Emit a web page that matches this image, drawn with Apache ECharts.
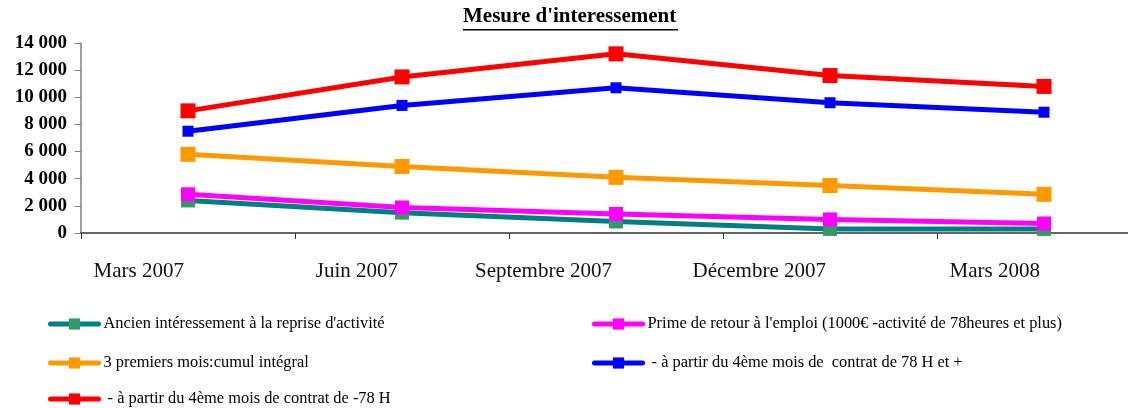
<!DOCTYPE html>
<html>
<head>
<meta charset="utf-8">
<script src="https://cdn.jsdelivr.net/npm/echarts@6/dist/echarts.min.js"></script>
<style>
  html, body { margin: 0; padding: 0; background: #fff; overflow: hidden; }
  /* the plot runs past the right edge of the picture, so the canvas is wider than the window */
  #chart { width: 1151px; height: 408px; }
</style>
</head>
<body>
<div id="chart"></div>
<script>
const months = ['Mars 2007', 'Juin 2007', 'Septembre 2007', 'Décembre 2007', 'Mars 2008']
const ancien = [2400, 1500, 850, 300, 300]
const prime = [2850, 1880, 1400, 1000, 700]
const premiers = [5800, 4900, 4100, 3500, 2850]
const plus78 = [7500, 9400, 10700, 9600, 8900]
const moins78 = [9000, 11500, 13200, 11600, 10800]
const yTicks = [0, 2000, 4000, 6000, 8000, 10000, 12000, 14000]

const names = [
  'Ancien intéressement à la reprise d\'activité',
  'Prime de retour à l\'emploi (1000€ -activité de 78heures et plus)',
  '3 premiers mois:cumul intégral',
  ' - à partir du 4ème mois de  contrat de 78 H et +',
  ' - à partir du 4ème mois de contrat de -78 H'
]

const serif = '"Liberation Serif", "DejaVu Serif", serif'

function line (name, data, lineColor, markColor, size) {
  return {
    name,
    type: 'line',
    data,
    symbol: 'rect',
    symbolSize: size,
    lineStyle: { color: lineColor, width: 5, cap: 'round' },
    itemStyle: { color: markColor },
    emphasis: { disabled: true },
    animation: false
  }
}

// one legend per entry so the two-column layout matches
function legendItem (name, left, top) {
  return {
    data: [name],
    left,
    top,
    padding: 0,
    itemWidth: 48,
    itemHeight: 14,
    lineStyle: { width: 5, cap: 'round' },
    textStyle: { fontFamily: serif, fontSize: 16.4, color: '#000' }
  }
}

const chart = echarts.init(document.getElementById('chart'))
chart.setOption({
  backgroundColor: '#ffffff',
  title: {
    text: "Mesure d'interessement",
    left: 463,
    top: 6,
    padding: 0,
    textStyle: { fontFamily: serif, fontSize: 21, fontWeight: 'bold', color: '#000' }
  },
  graphic: [{
    type: 'rect',
    shape: { x: 463, y: 29, width: 215, height: 1.5 },
    style: { fill: '#000' }
  }],
  grid: { left: 81, right: 0, top: 43, bottom: 175 },
  legend: [
    legendItem(names[0], 48, 316),
    legendItem(names[1], 592, 316),
    legendItem(names[2], 48, 355),
    legendItem(names[3], 592, 355),
    legendItem(names[4], 48, 391)
  ],
  xAxis: {
    type: 'category',
    data: months,
    boundaryGap: true,
    axisLine: { lineStyle: { color: '#333', width: 1.5 } },
    axisTick: { show: true, length: 6, interval: 0, lineStyle: { color: '#333' } },
    axisLabel: {
      interval: 0,
      align: 'right',
      margin: 28,
      padding: [0, 4, 0, 0],
      fontFamily: serif,
      fontSize: 21,
      color: '#111'
    }
  },
  yAxis: {
    type: 'value',
    min: 0,
    max: 14000,
    interval: 2000,
    splitLine: { show: false },
    axisLine: { show: true, lineStyle: { color: '#808080', width: 1.5 } },
    axisTick: { show: true, length: 6, lineStyle: { color: '#808080' } },
    axisLabel: {
      margin: 14,
      fontFamily: serif,
      fontSize: 19,
      fontWeight: 'bold',
      color: '#000',
      formatter: v => yTicks.includes(v) ? String(v).replace(/\B(?=(\d{3})+$)/g, ' ') : ''
    }
  },
  series: [
    line(names[0], ancien, '#008080', '#339966', 14),
    line(names[1], prime, '#ff00ff', '#ff00ff', 14),
    line(names[2], premiers, '#ff9900', '#ff9900', 15),
    line(names[3], plus78, '#0000ff', '#0000ff', 11),
    line(names[4], moins78, '#ff0000', '#ff0000', 15)
  ]
})
</script>
</body>
</html>
